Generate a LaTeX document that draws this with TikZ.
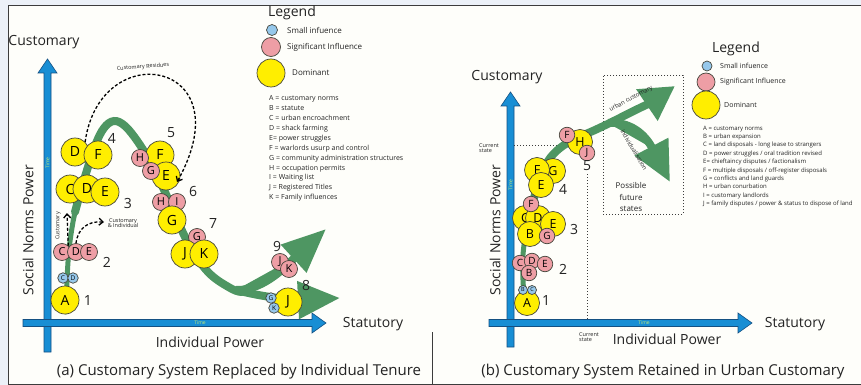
\documentclass[tikz,border=0pt]{standalone}
\usepackage{fontspec}
\setmainfont{Open Sans}
\usepackage{tikz}
\usetikzlibrary{arrows.meta, calc, positioning}
\definecolor{domyellow}{RGB}{255,238,0}
\definecolor{sigpink}{RGB}{238,158,165}
\definecolor{smlblue}{RGB}{150,200,235}
\definecolor{bubbleline}{RGB}{70,70,60}
\definecolor{streamgreen}{RGB}{78,150,98}
\definecolor{axisblue}{RGB}{24,142,212}
\definecolor{axisline}{RGB}{20,80,130}
\definecolor{timegreen}{RGB}{190,232,120}
\definecolor{inkgrey}{RGB}{35,35,35}
\definecolor{framegrey}{RGB}{60,60,60}
\definecolor{slidebg}{RGB}{236,241,248}
\definecolor{paper}{RGB}{254,254,250}
\newcommand{\fsz}[1]{\fontsize{#1}{#1}\selectfont}
\newcommand{\bubble}[4]{
    \node[#1] (#2) at (#3) {#4};
}
\newcommand{\vaxis}[3]{
    \filldraw[axis] (#1-3.5,#2) -- (#1-3.5,#3+14) -- (#1-9.5,#3+14) -- (#1,#3) -- (#1+9.5,#3+14) -- (#1+3.5,#3+14) -- (#1+3.5,#2) -- cycle;
}
\newcommand{\haxis}[3]{
    \filldraw[axis] (#2,#1-3.5) -- (#3-14,#1-3.5) -- (#3-14,#1-10) -- (#3,#1) -- (#3-14,#1+10) -- (#3-14,#1+3.5) -- (#2,#1+3.5) -- cycle;
}
\tikzset{
    bubble/.style={circle, draw=bubbleline, line width=0.7pt, inner sep=0pt, text=black},
    dom/.style={bubble, fill=domyellow, minimum size=28pt, font=\fsz{14}},
    sig/.style={bubble, fill=sigpink, minimum size=17pt, font=\fsz{11}},
    sml/.style={bubble, fill=smlblue, minimum size=10.5pt, font=\fsz{6.5}},
    domb/.style={dom, minimum size=25pt, font=\fsz{12.5}},
    sigb/.style={sig, minimum size=15.5pt, font=\fsz{10}},
    smlb/.style={sml, minimum size=9pt, font=\fsz{5.5}},
    stage/.style={font=\fsz{14}, text=inkgrey, inner sep=0pt},
    axislabel/.style={font=\fsz{14}, text=inkgrey, inner sep=0pt},
    caption/.style={font=\fsz{15}, text=inkgrey, inner sep=0pt},
    tinylabel/.style={font=\fsz{5.5}, text=inkgrey, inner sep=0pt, align=center},
    timelabel/.style={font=\fsz{5}, text=timegreen, inner sep=0pt},
    axis/.style={fill=axisblue, draw=axisline, line width=0.6pt},
    stream/.style={draw=streamgreen, line width=8pt, line cap=round},
    thinstream/.style={draw=streamgreen, line width=5pt, line cap=round},
    streamarrow/.style={draw=streamgreen, fill=streamgreen, line width=8pt, -{Triangle[#1]}},
    dasharrow/.style={draw=black, line width=1.3pt, dash pattern=on 3pt off 2pt, -{Straight Barb[length=4pt, width=7pt]}},
    dotline/.style={draw=framegrey, line width=0.6pt, dash pattern=on 1.2pt off 1.8pt},
    legendtext/.style={font=\fsz{8}, text=inkgrey, anchor=west, inner sep=0pt},
    keylist/.style={font=\fsz{7}, text=inkgrey, anchor=north west, inner sep=0pt, align=left},
    frame/.style={draw=framegrey, line width=1pt}
}
\begin{document}
\begin{tikzpicture}[x=1pt, y=-1pt]
\useasboundingbox (0,0) rectangle (861,385);
\fill[slidebg] (0,0) rectangle (861,385);
\fill[paper] (8,6) rectangle (861,384);
\draw[frame] (8,6) -- (861,6);
\draw[frame] (8,6) -- (8,384) -- (861,384);
\draw[frame] (432,332) -- (432,384);

\vaxis{47.5}{352}{59}
\haxis{323}{23}{326}
\node[timelabel, rotate=90] (a-tv) at (47.5,163) {Time};
\node[timelabel] (a-th) at (200,323) {Time};
\node[axislabel] (a-cust) at (44,42) {Customary};
\node[axislabel, rotate=90] (a-snp) at (28,230) {Social Norms Power};
\node[axislabel] (a-ip) at (210,342) {Individual Power};
\node[axislabel] (a-stat) at (373,324) {Statutory};
\node[caption] (a-cap) at (239,372) {(a) Customary System Replaced by Individual Tenure};

\draw[thinstream] plot[smooth, tension=0.6] coordinates {(66,312) (67,280) (69,250) (73,222) (78,200)};
\draw[stream] plot[smooth, tension=0.6] coordinates {(75,212) (84,180) (95,146) (104,128) (114,121) (125,126) (138,142) (152,165) (165,192) (178,222) (192,250) (210,274) (232,289) (242,292)};
\draw[streamarrow={width=36pt, length=44pt}] (236,290) .. controls (265,291) and (290,262) .. (326,229);
\draw[streamarrow={width=36pt, length=42pt}] (236,290) .. controls (270,299) and (300,300) .. (340,298);

\bubble{dom}{a1-A}{65,300}{A}
\bubble{sml}{a1-C}{63,278}{C}
\bubble{sml}{a1-D}{73,278}{D}
\bubble{sig}{a2-C}{62,252}{C}
\bubble{sig}{a2-D}{76,252}{D}
\bubble{sig}{a2-E}{89,252}{E}
\bubble{dom}{a3-C}{70,189}{C}
\bubble{dom}{a3-D}{87,189}{D}
\bubble{dom}{a3-E}{105,192}{E}
\bubble{dom}{a4-D}{75,152}{D}
\bubble{dom}{a4-F}{98,155}{F}
\bubble{dom}{a5-F}{160,155}{F}
\bubble{dom}{a5-E}{166,176}{E}
\bubble{sig}{a5-H}{140,158}{H}
\bubble{sig}{a5-G}{151,171}{G}
\bubble{sig}{a6-H}{161,202}{H}
\bubble{sig}{a6-I}{177,202}{I}
\bubble{dom}{a6-G}{172,220}{G}
\bubble{sig}{a7-G}{197,237}{G}
\bubble{dom}{a7-J}{185,254}{J}
\bubble{dom}{a7-K}{204,254}{K}
\bubble{sig}{a9-J}{280,262}{J}
\bubble{sig}{a9-K}{289,269}{K}
\bubble{dom}{a8-J}{288,302}{J}
\bubble{sml}{a8-G}{271,298}{G}
\bubble{sml}{a8-K}{274,308}{K}

\node[stage] (a-n1) at (88,300) {1};
\node[stage] (a-n2) at (107,262) {2};
\node[stage] (a-n3) at (128,203) {3};
\node[stage] (a-n4) at (112,138) {4};
\node[stage] (a-n5) at (171,133) {5};
\node[stage] (a-n6) at (193,191) {6};
\node[stage] (a-n7) at (213,224) {7};
\node[stage] (a-n8) at (306,285) {8};
\node[stage] (a-n9) at (277,246) {9};

\coordinate (res-end) at (177,182);
\coordinate (cust-end) at (67,213);
\coordinate (ci-end) at (104,222);
\draw[dasharrow] (a4-D.north east) .. controls (100,35) and (245,60) .. (res-end);
\node[tinylabel, rotate=4] (res-lbl) at (143,67) {Customary Residues};
\draw[dasharrow] (a2-C.north east) -- (cust-end);
\node[tinylabel, rotate=90] (cust-lbl) at (58,226) {Customary};
\draw[dasharrow] (a2-D.north) .. controls (78,228) and (88,221) .. (ci-end);
\node[tinylabel] (ci-lbl) at (123,223) {Customary\\\& Individual};

\node[font=\fsz{14}, text=inkgrey] (a-leg) at (292,13) {Legend};
\node[sml, minimum size=11pt] (a-leg-s) at (272,30) {};
\node[sig, minimum size=19pt] (a-leg-g) at (271,47) {};
\node[dom] (a-leg-d) at (271,73) {};
\node[legendtext] (a-leg-st) at (287,30) {Small infuence};
\node[legendtext] (a-leg-gt) at (287,47) {Significant Influence};
\node[legendtext] (a-leg-dt) at (292,73) {Dominant};
\node[keylist, font=\fontsize{7}{9.9}\selectfont] (a-key) at (269,95.5) {A = customary norms\\B = statute\\C = urban encroachment\\D = shack farming\\E= power struggles\\F = warlords usurp and control\\G = community administration structures\\H = occupation permits\\I = Waiting list\\J = Registered Titles\\K = Family influences};

\vaxis{510.5}{347}{92}
\haxis{323}{489}{752}
\node[timelabel, rotate=90] (b-tv) at (510.5,185) {Time};
\node[timelabel] (b-th) at (644,323) {Time};
\node[axislabel] (b-cust) at (507,77) {Customary};
\node[axislabel, rotate=90] (b-snp) at (495,230) {Social Norms Power};
\node[axislabel] (b-ip) at (667,339) {Individual Power};
\node[axislabel] (b-stat) at (795,324) {Statutory};
\node[caption] (b-cap) at (663,372) {(b) Customary System Retained in Urban Customary};

\coordinate (cs-left) at (514,145);
\coordinate (cs-right) at (563,145);
\coordinate (cs-top) at (587,174);
\coordinate (cs-bottom) at (587,320);
\draw[dotline] (cs-left) -- (cs-right);
\draw[dotline] (cs-top) -- (cs-bottom);
\node[tinylabel, align=left] (b-cs1) at (489,148) {Current\\state};
\node[tinylabel, align=left] (b-cs2) at (589,337) {Current\\state};
\node[dotline, draw, minimum width=80pt, minimum height=139pt] (b-future) at (643,144.5) {};

\draw[thinstream] plot[smooth, tension=0.6] coordinates {(525,308) (523,280) (523,255) (526,230)};
\draw[stream] plot[smooth, tension=0.6] coordinates {(526,232) (532,205) (540,180) (548,161) (560,148) (575,139) (595,130) (614,121)};
\draw[streamarrow={width=36pt, length=34pt}] (612,122) .. controls (633,111) and (650,103) .. (675,86);
\draw[streamarrow={width=36pt, length=40pt}] (608,123) .. controls (635,121) and (648,140) .. (670,182);
\node[tinylabel, font=\fsz{6}, rotate=28] (b-urb) at (631,99) {urban customary};
\node[tinylabel, font=\fsz{6}, rotate=-59] (b-ind) at (634,150) {individualisation};
\node[tinylabel, font=\fontsize{8}{11.5}\selectfont] (b-poss) at (631,197) {Possible\\future\\states};

\bubble{domb}{b1-A}{527,303}{A}
\bubble{smlb}{b1-B}{523,290}{B}
\bubble{smlb}{b1-C}{532,290}{C}
\bubble{sigb}{b2-C}{520,263}{C}
\bubble{sigb}{b2-D}{532,261}{D}
\bubble{sigb}{b2-E}{545,264}{E}
\bubble{sigb}{b2-B}{529,273}{B}
\bubble{domb}{b3-C}{525,218}{C}
\bubble{domb}{b3-D}{538,218}{D}
\bubble{domb}{b3-E}{553,224}{E}
\bubble{domb}{b3-B}{530,234}{B}
\bubble{sigb}{b3-G}{547,236}{G}
\bubble{sigb}{b3-F}{531,204}{F}
\bubble{domb}{b4-G}{553,171}{G}
\bubble{domb}{b4-F}{537,170}{F}
\bubble{domb}{b4-E}{541,185}{E}
\bubble{domb}{b5-H}{580,142}{H}
\bubble{sigb}{b5-F}{567,135}{F}
\bubble{sigb}{b5-J}{587,153}{J}

\node[stage] (b-n1) at (546,300) {1};
\node[stage] (b-n2) at (563,269) {2};
\node[stage] (b-n3) at (574,229) {3};
\node[stage] (b-n4) at (563,189) {4};
\node[stage] (b-n5) at (587,166) {5};

\node[font=\fsz{14}, text=inkgrey] (b-leg) at (736,49) {Legend};
\node[sml, minimum size=10pt] (b-leg-s) at (707,66) {};
\node[sig, minimum size=18pt] (b-leg-g) at (706,82) {};
\node[dom] (b-leg-d) at (706,105) {};
\node[legendtext, font=\fsz{7}] (b-leg-st) at (720,66) {Small infuence};
\node[legendtext, font=\fsz{7}] (b-leg-gt) at (720,82) {Significant Influence};
\node[legendtext, font=\fsz{7}] (b-leg-dt) at (724,105) {Dominant};
\node[keylist, font=\fontsize{6}{8.4}\selectfont] (b-key) at (703,125.5) {A = customary norms\\B = urban expansion\\C = land disposals - long lease to strangers\\D = power struggles / oral tradition revised\\E= chieftaincy disputes / factionalism\\F = multiple disposals / off-register disposals\\G = conflicts and land guards\\H = urban conurbation\\I = customary landlords\\J = family disputes / power \& status to dispose of land};
\end{tikzpicture}
\end{document}
